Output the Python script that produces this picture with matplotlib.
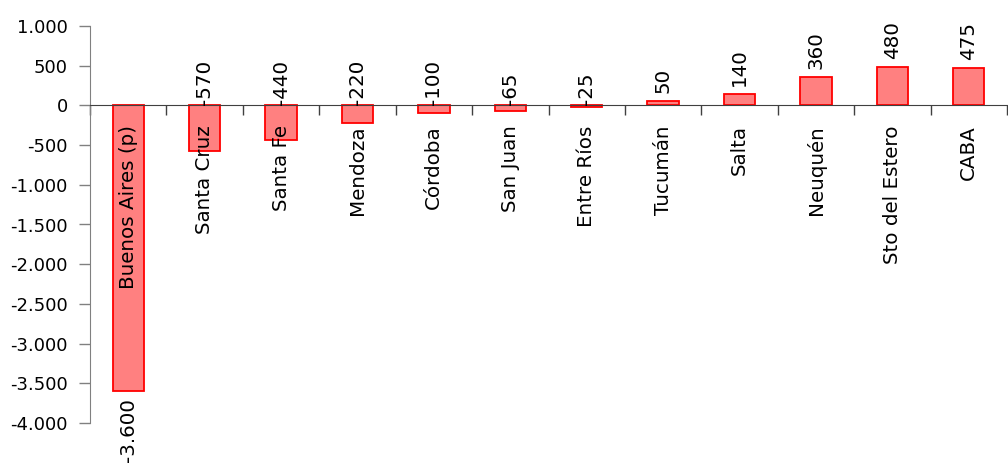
import numpy as np
import matplotlib.pyplot as plt
from matplotlib.ticker import FuncFormatter

provincias = ["Buenos Aires (p)", "Santa Cruz", "Santa Fe", "Mendoza", "Córdoba",
              "San Juan", "Entre Ríos", "Tucumán", "Salta", "Neuquén",
              "Sto del Estero", "CABA"]
valores = [-3600, -570, -440, -220, -100, -65, -25, 50, 140, 360, 480, 475]

plt.rcParams['font.family'] = ['DejaVu Sans']
fs_ticks = 13
fs = 14.3


def miles(v, pos=None):
    # separador de miles con punto
    return f"{int(v):,}".replace(",", ".")


fig = plt.figure(figsize=(10.08, 4.65), dpi=100)
ax = fig.add_axes([90 / 1008, 1 - 423 / 465, 917 / 1008, 397 / 465])

x = np.arange(len(provincias)) + 0.5
ax.bar(x, valores, width=0.41, color="#FF8080", edgecolor="#FF0000", linewidth=1.3)

ax.set_xlim(0, len(provincias))
ax.set_ylim(-4000, 1000)
ax.set_yticks(np.arange(-4000, 1001, 500))
ax.yaxis.set_major_formatter(FuncFormatter(miles))
ax.tick_params(axis="y", direction="out", length=8, width=1, color="#808080",
               labelsize=fs_ticks, pad=8)

# eje x en el cero, ticks entre categorias
ax.spines["bottom"].set_position(("data", 0))
ax.spines["bottom"].set_color("#404040")
ax.spines["left"].set_color("#808080")
ax.spines["top"].set_visible(False)
ax.spines["right"].set_visible(False)
ax.set_xticks(np.arange(0, len(provincias) + 1))
ax.set_xticklabels([])
ax.tick_params(axis="x", direction="out", length=7, width=1, color="#404040")

for xi, nombre in zip(x, provincias):
    ax.annotate(nombre, xy=(xi, 0), xytext=(0, -20), textcoords="offset pixels",
                rotation=90, ha="center", va="top", fontsize=fs)

for xi, v in zip(x, valores):
    if v > 0:
        ax.annotate(miles(v), xy=(xi, v), xytext=(0, 8), textcoords="offset pixels",
                    rotation=90, ha="center", va="bottom", fontsize=fs)
    elif v > -1000:
        ax.annotate(miles(v), xy=(xi, 0), xytext=(0, 0), textcoords="offset pixels",
                    rotation=90, ha="center", va="bottom", fontsize=fs)
    else:
        ax.annotate(miles(v), xy=(xi, v), xytext=(0, -7), textcoords="offset pixels",
                    rotation=90, ha="center", va="top", fontsize=fs)

fig.savefig("out.png", dpi=100)
